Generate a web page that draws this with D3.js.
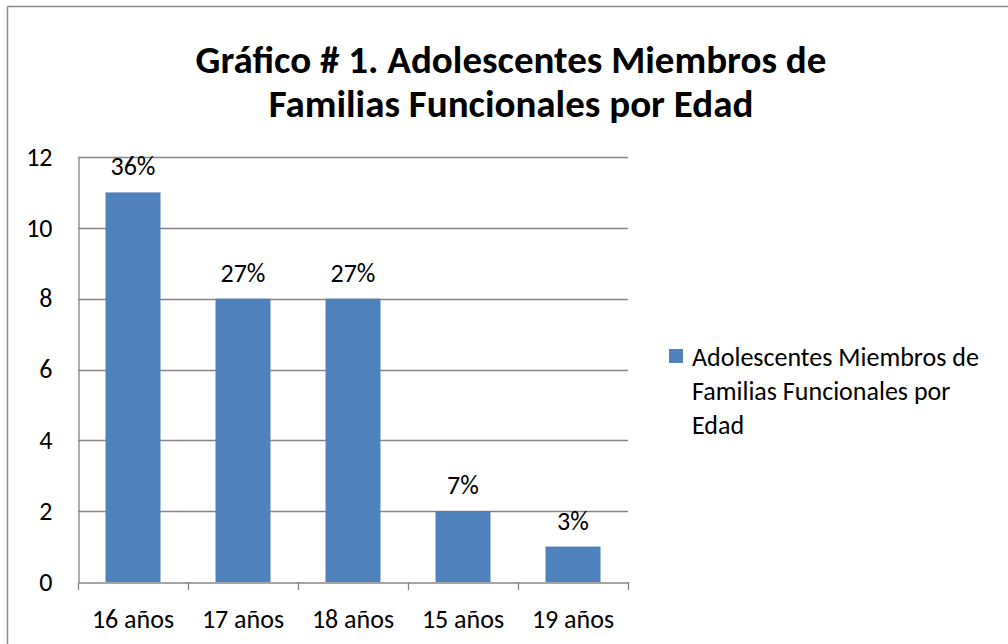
<!DOCTYPE html>
<html>
<head>
<meta charset="utf-8">
<script src="https://cdn.jsdelivr.net/npm/d3@7"></script>
<style>
  body { margin: 0; background: #fff; }
  svg { display: block; font-family: Carlito, Lato, sans-serif; }
</style>
</head>
<body>
<svg width="1008" height="644"></svg>
<script>
// data
const categories = ["16 años", "17 años", "18 años", "15 años", "19 años"];
const counts = [11, 8, 8, 2, 1];
const percentLabels = ["36%", "27%", "27%", "7%", "3%"];
const yTicks = [0, 2, 4, 6, 8, 10, 12];
const titleLines = ["Gráfico # 1. Adolescentes Miembros de", "Familias Funcionales por Edad"];
const legendLines = ["Adolescentes Miembros de", "Familias Funcionales por", "Edad"];

const barColor = "#4f81bd";
const gridColor = "#868686";
const labelSize = "26px";

const plotLeft = 78, plotRight = 628, plotTop = 157, plotBottom = 582;

const svg = d3.select("svg");

// outer frame (top and left edges visible)
svg.append("line").attr("x1", 7.5).attr("x2", 1008).attr("y1", 6.5).attr("y2", 6.5)
    .attr("stroke", "#8c8c8c").attr("stroke-width", 1.5);
svg.append("line").attr("x1", 7.5).attr("x2", 7.5).attr("y1", 6.5).attr("y2", 644)
    .attr("stroke", "#8c8c8c").attr("stroke-width", 1.5);

// title
svg.append("g").selectAll("text")
    .data(titleLines)
    .enter().append("text")
    .attr("x", 511)
    .attr("y", (d, i) => 73 + i * 44)
    .attr("text-anchor", "middle")
    .attr("font-size", "39px")
    .attr("font-weight", "bold")
    .attr("fill", "#000")
    .text(d => d);

const x = d3.scaleBand()
    .domain(categories)
    .range([plotLeft, plotRight])
    .paddingInner(0)
    .paddingOuter(0);

const y = d3.scaleLinear()
    .domain([0, 12])
    .range([plotBottom, plotTop]);

// gridlines
svg.append("g").selectAll("line")
    .data(yTicks.filter(d => d > 0))
    .enter().append("line")
    .attr("x1", plotLeft)
    .attr("x2", plotRight)
    .attr("y1", d => Math.round(y(d)) + 0.5)
    .attr("y2", d => Math.round(y(d)) + 0.5)
    .attr("stroke", gridColor)
    .attr("stroke-width", 1.3);

// bars
const bw = x.bandwidth() * 0.5;
svg.append("g").selectAll("rect")
    .data(counts)
    .enter().append("rect")
    .attr("x", (d, i) => x(categories[i]) + (x.bandwidth() - bw) / 2)
    .attr("y", d => y(d))
    .attr("width", bw)
    .attr("height", d => y(0) - y(d))
    .attr("fill", barColor);

// data labels
svg.append("g").selectAll("text")
    .data(counts)
    .enter().append("text")
    .attr("x", (d, i) => x(categories[i]) + x.bandwidth() / 2)
    .attr("y", d => y(d) - 17)
    .attr("text-anchor", "middle")
    .attr("font-size", labelSize)
    .attr("fill", "#000")
    .text((d, i) => percentLabels[i]);

// y axis
const yAxis = svg.append("g")
    .attr("transform", `translate(${plotLeft + 0.5},0)`)
    .call(d3.axisLeft(y).tickValues(yTicks).tickSize(0).tickPadding(26));
yAxis.select(".domain").attr("stroke", gridColor).attr("stroke-width", 1.3);
yAxis.selectAll("text").attr("font-size", labelSize).attr("fill", "#000")
    .attr("font-family", "Carlito, Lato, sans-serif");

// x axis
const xAxis = svg.append("g")
    .attr("transform", `translate(0,${Math.round(plotBottom) + 0.5})`)
    .call(d3.axisBottom(x).tickSize(0).tickPadding(27));
xAxis.select(".domain").attr("stroke", gridColor).attr("stroke-width", 1.3);
xAxis.selectAll("text").attr("font-size", labelSize).attr("fill", "#000")
    .attr("font-family", "Carlito, Lato, sans-serif");

// category boundary ticks
const bounds = categories.map(c => x(c)).concat([plotRight]);
svg.append("g").selectAll("line")
    .data(bounds)
    .enter().append("line")
    .attr("x1", d => Math.round(d) + 0.5)
    .attr("x2", d => Math.round(d) + 0.5)
    .attr("y1", plotBottom)
    .attr("y2", plotBottom + 8)
    .attr("stroke", gridColor)
    .attr("stroke-width", 1.3);

// legend
const legend = svg.append("g").attr("transform", "translate(669,349)");
legend.append("rect")
    .attr("width", 14).attr("height", 14)
    .attr("fill", barColor);
legend.selectAll("text")
    .data(legendLines)
    .enter().append("text")
    .attr("x", 23)
    .attr("y", (d, i) => 17 + i * 34)
    .attr("font-size", labelSize)
    .attr("fill", "#000")
    .text(d => d);
</script>
</body>
</html>
